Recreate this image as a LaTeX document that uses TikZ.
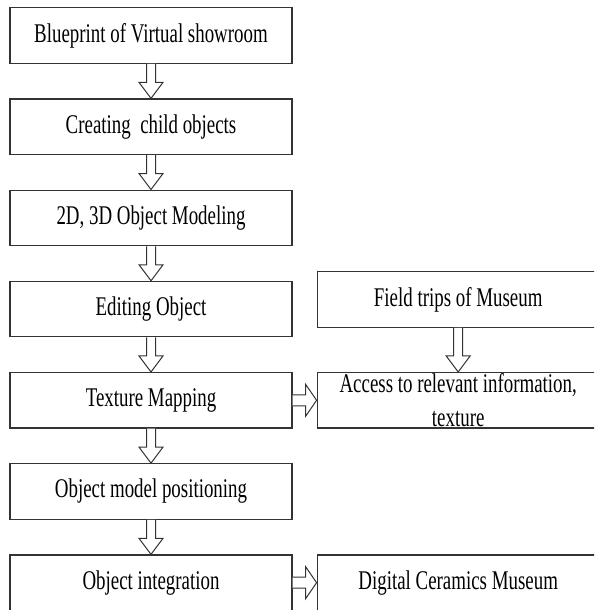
\documentclass[tikz,border=0pt]{standalone}
\usepackage{fontspec}
\setmainfont{Liberation Serif}[FakeStretch=0.7]
\usetikzlibrary{calc,positioning}
\tikzset{
    flow box/.style={
        draw=black!80,line width=.6pt,
        fill=white,inner sep=0pt,
        minimum width=141pt,minimum height=27.75pt,
        align=center,
        font=\fontsize{13.5}{17}\selectfont
    },
    hollow arrow/.style={draw=black!80,line width=.5pt,fill=white,line join=miter}
}
% hollow block arrows between two boxes
\newcommand\flowdown[2]{%
  \draw[hollow arrow] ($(#1.south)+(-4.5,0)$) -- ($(#2.north)+(-4.5,-16)$)
    -- ($(#2.north)+(-12,-16)$) -- (#2.north) -- ($(#2.north)+(12,-16)$)
    -- ($(#2.north)+(4.5,-16)$) -- ($(#1.south)+(4.5,0)$);
}
\newcommand\flowright[2]{%
  \draw[hollow arrow] ($(#1.east)+(0,-5.5)$) -- ($(#2.west)+(-11,-5.5)$)
    -- ($(#2.west)+(-11,-16)$) -- (#2.west) -- ($(#2.west)+(-11,16)$)
    -- ($(#2.west)+(-11,5.5)$) -- ($(#1.east)+(0,5.5)$);
}

\begin{document}
\begin{tikzpicture}[x=0.5pt,y=-0.5pt]
\useasboundingbox (0,0) rectangle (594,610);
\clip (0,0) rectangle (594,610);
\foreach \i/\name in {0/Blueprint of Virtual showroom,1/Creating\ \ child objects,2/{2D, 3D Object Modeling},3/Editing Object,4/Texture Mapping,5/Object model positioning,6/Object integration}
    \node[flow box] (box_\i) at (151,35.5+91.2*\i) {\name};
\node[flow box,right=12pt of box_4] (access) {Access to relevant information,\\texture};
\node[flow box,above=22pt of access] (field) {Field trips of Museum};
\node[flow box,right=12pt of box_6] (museum) {Digital Ceramics Museum};
\foreach \i [count=\j from 1] in {0,...,5}
    {\flowdown{box_\i}{box_\j}}
\flowdown{field}{access}
\flowright{box_4}{access}
\flowright{box_6}{museum}
\end{tikzpicture}
\end{document}
